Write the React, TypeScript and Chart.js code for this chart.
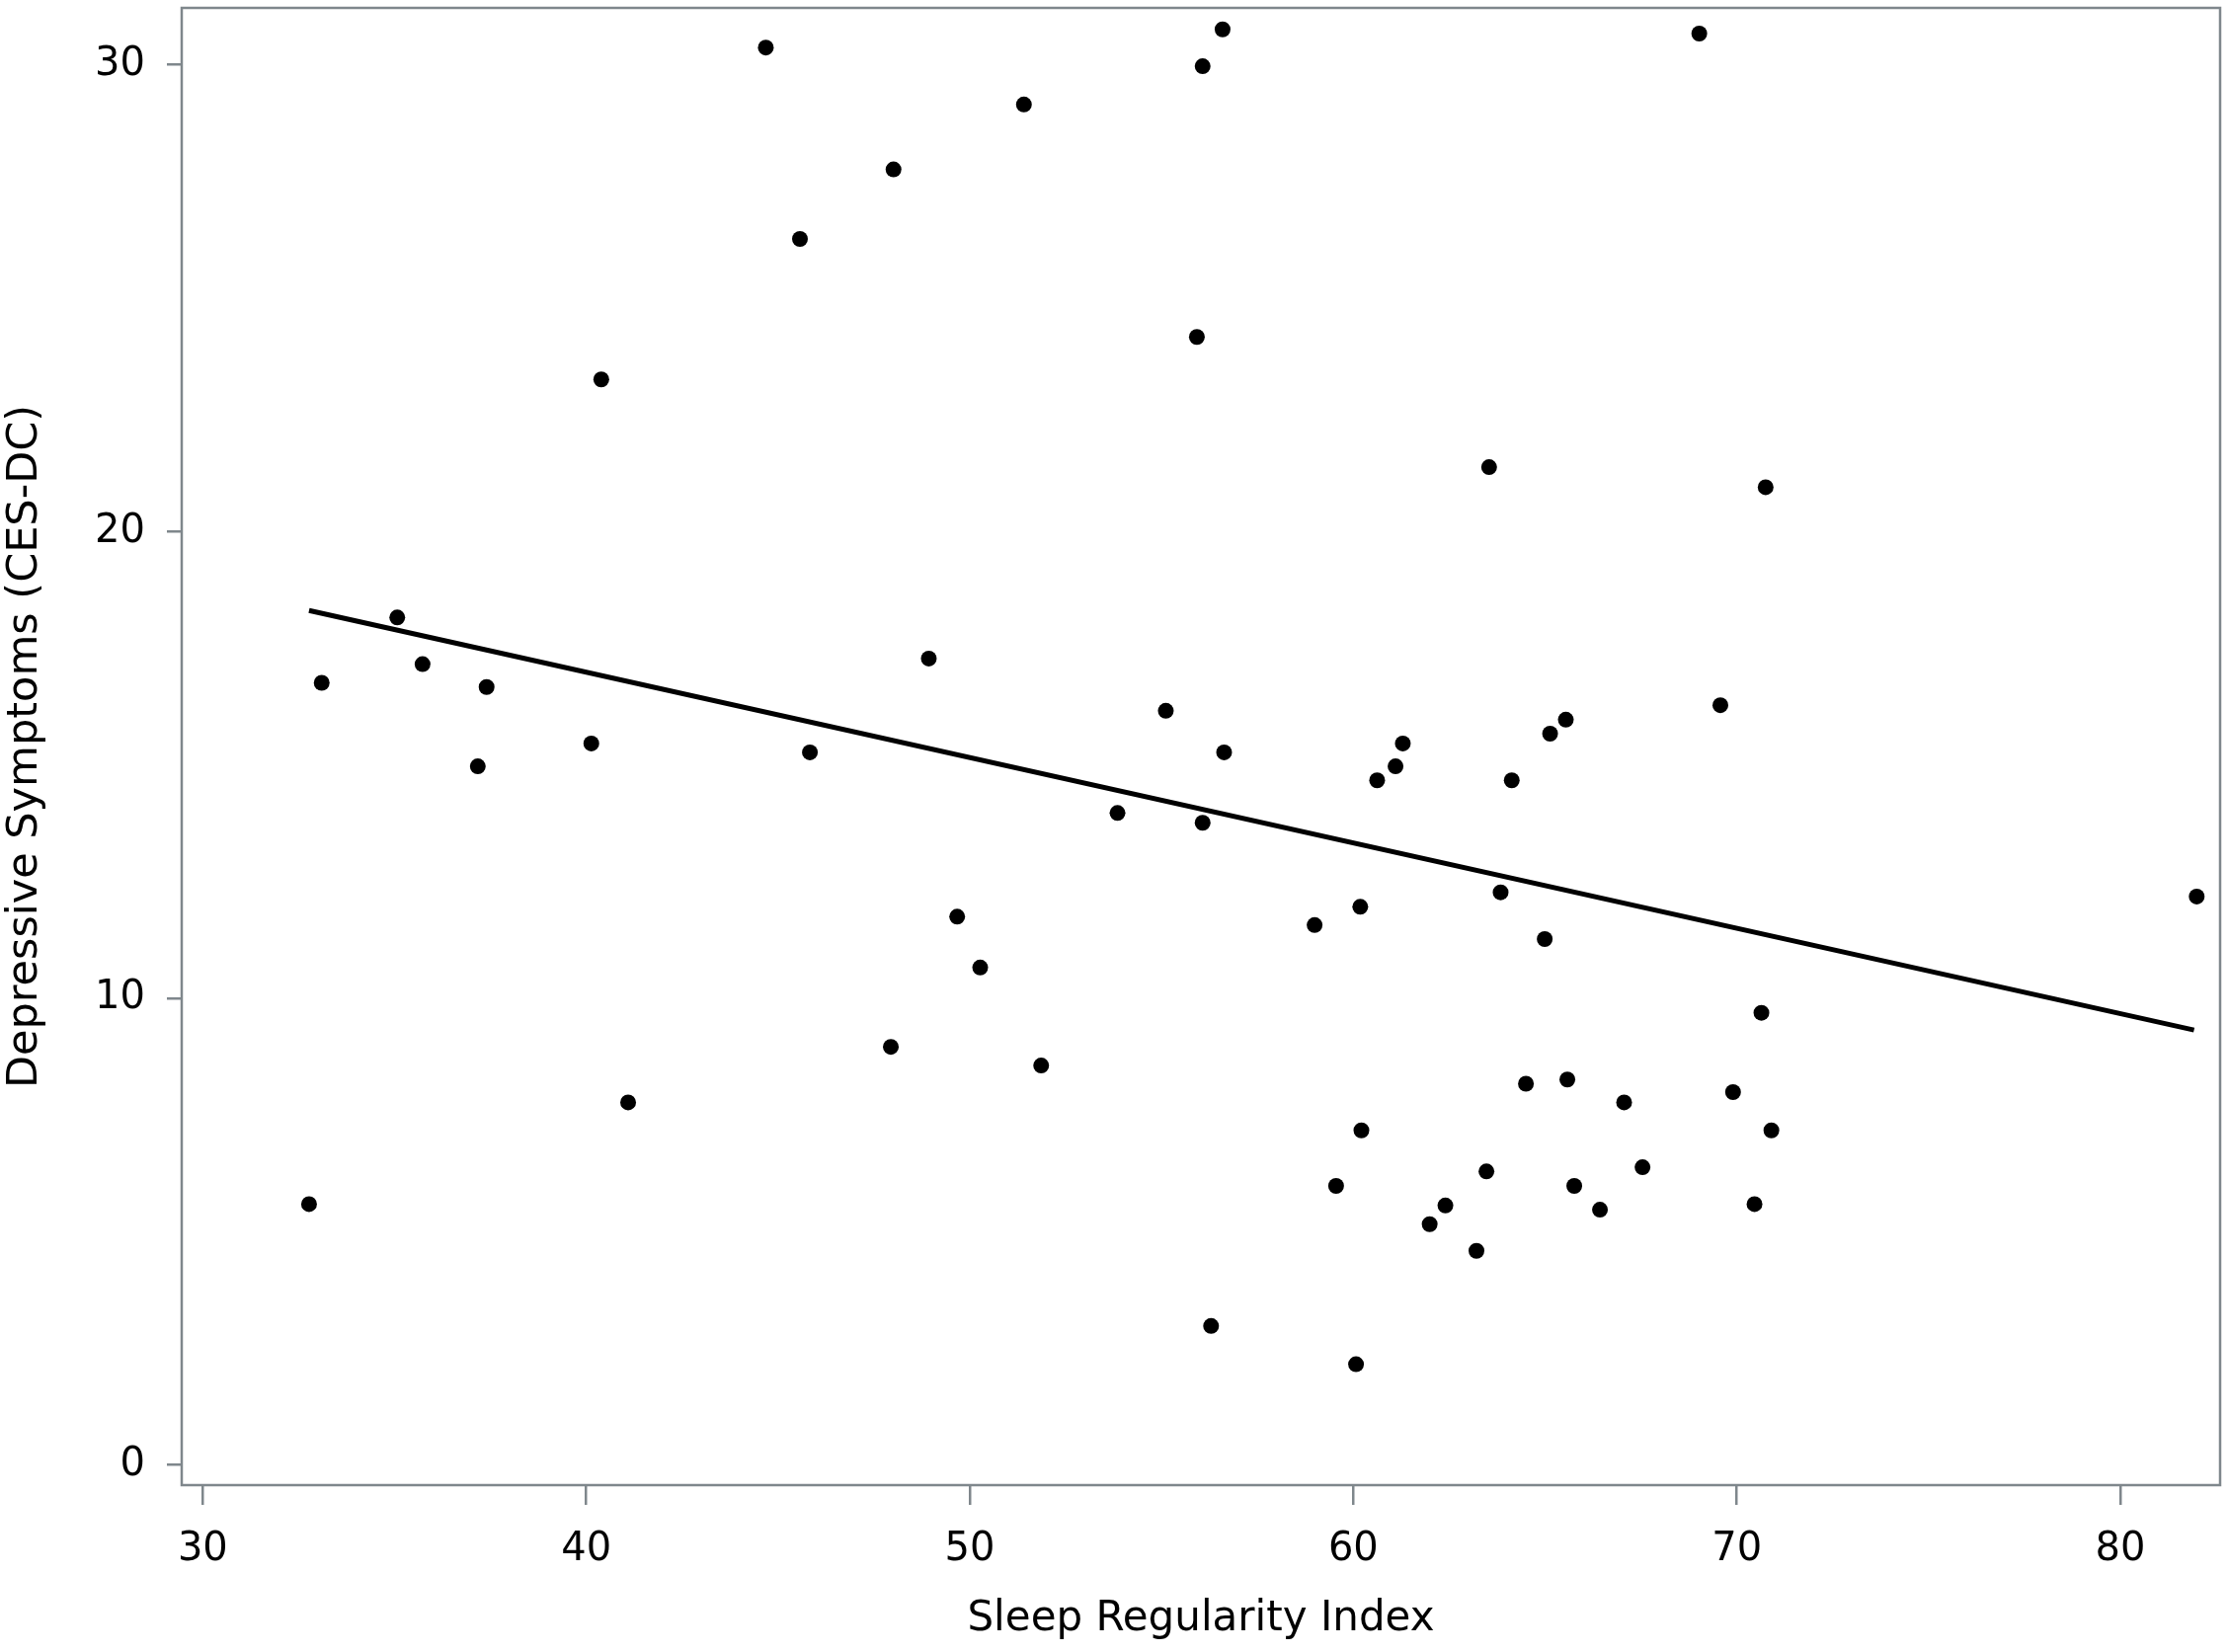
import React, { useEffect, useRef } from "react";
import { Chart, registerables } from "chart.js";
Chart.register(...registerables);

// Sleep Regularity Index (x) and CES-DC score (y) per participant
const sriValues = [
  32.77, 33.1, 35.07, 35.73, 37.17, 37.4, 40.13, 40.39, 41.09, 44.68,
  45.57, 45.83, 47.94, 48.01, 48.93, 49.67, 50.27, 51.41, 51.86, 53.85,
  55.11, 55.92, 56.07, 56.07, 56.29, 56.59, 56.63, 58.99, 59.55, 60.07,
  60.18, 60.21, 60.62, 61.1, 61.29, 61.99, 62.4, 63.21, 63.47, 63.54,
  63.84, 64.13, 64.5, 64.99, 65.13, 65.54, 65.58, 65.76, 66.43, 67.06,
  67.54, 69.02, 69.57, 69.9, 70.46, 70.64, 70.75, 70.9, 81.99,
];
const cesdcValues = [
  5.59, 16.76, 18.16, 17.16, 14.97, 16.67, 15.46, 23.26, 7.77, 30.37,
  26.27, 15.27, 8.96, 27.76, 17.28, 11.75, 10.66, 29.15, 8.56, 13.97,
  16.16, 24.17, 29.97, 13.76, 2.98, 30.76, 15.27, 11.57, 5.98, 2.16,
  11.96, 7.17, 14.67, 14.97, 15.46, 5.16, 5.56, 4.59, 6.29, 21.38,
  12.27, 14.67, 8.17, 11.27, 15.67, 15.97, 8.26, 5.98, 5.47, 7.77,
  6.38, 30.67, 16.28, 7.99, 5.59, 9.69, 20.95, 7.17, 12.18,
];
// Fitted regression line end points
const fitX = [32.77, 81.92];
const fitY = [18.31, 9.32];

const xTicks = [30, 40, 50, 60, 70, 80];
const yTicks = [0, 10, 20, 30];
const xTitle = "Sleep Regularity Index";
const yTitle = "Depressive Symptoms (CES-DC)";

const W = 2256;
const H = 1673;
const AXIS_GRAY = "#7f878c";
const FONT = "DejaVu Sans";

const framePlugin = {
  id: "frame",
  afterDatasetsDraw(chart: any) {
    const { ctx, chartArea } = chart;
    ctx.save();
    ctx.strokeStyle = AXIS_GRAY;
    ctx.lineWidth = 2.5;
    ctx.strokeRect(chartArea.left, chartArea.top, chartArea.right - chartArea.left, chartArea.bottom - chartArea.top);
    ctx.restore();
  },
};

export default function App() {
  const ref = useRef<HTMLCanvasElement>(null);
  useEffect(() => {
    if (!ref.current) return;
    const points = sriValues.map((x, i) => ({ x, y: cesdcValues[i] }));
    const line = fitX.map((x, i) => ({ x, y: fitY[i] }));
    const chart = new Chart(ref.current, {
      type: "scatter",
      data: {
        datasets: [
          {
            data: line,
            showLine: true,
            borderColor: "#000",
            borderWidth: 5,
            pointRadius: 0,
            order: 2,
          } as any,
          {
            data: points,
            backgroundColor: "#000",
            borderColor: "#000",
            pointRadius: 8,
            pointBorderWidth: 0,
            order: 1,
          },
        ],
      },
      options: {
        animation: false,
        responsive: false,
        devicePixelRatio: 1,
        layout: { padding: { top: 4, right: 4, left: 0, bottom: 0 } },
        plugins: { legend: { display: false }, tooltip: { enabled: false } },
        scales: {
          x: {
            type: "linear",
            min: 29.45,
            max: 82.6,
            afterBuildTicks: (s: any) => {
              s.ticks = xTicks.map((v) => ({ value: v }));
            },
            afterFit: (s: any) => {
              s.height = 169;
              s.paddingLeft = 0;
              s.paddingRight = 0;
            },
            border: { display: false },
            grid: { drawOnChartArea: false, drawTicks: true, tickLength: 20, color: AXIS_GRAY, lineWidth: 2.5 },
            ticks: { color: "#000", font: { family: FONT, size: 40 }, padding: 22, maxRotation: 0 },
            title: {
              display: true,
              text: xTitle,
              color: "#000",
              font: { family: FONT, size: 42 },
              padding: { top: 0, bottom: 8 },
            },
          },
          y: {
            type: "linear",
            min: -0.43,
            max: 31.22,
            afterBuildTicks: (s: any) => {
              s.ticks = yTicks.map((v) => ({ value: v }));
            },
            afterFit: (s: any) => {
              s.width = 184;
              s.paddingTop = 0;
              s.paddingBottom = 0;
            },
            border: { display: false },
            grid: { drawOnChartArea: false, drawTicks: true, tickLength: 15, color: AXIS_GRAY, lineWidth: 2.5 },
            ticks: { color: "#000", font: { family: FONT, size: 40 }, padding: 22 },
            title: {
              display: true,
              text: yTitle,
              color: "#000",
              font: { family: FONT, size: 43 },
              padding: { top: 0, bottom: 0 },
            },
          },
        },
      },
      plugins: [framePlugin],
    });
    return () => chart.destroy();
  }, []);
  return (
    <div style={{ position: "absolute", left: 0, top: 0, width: W, height: H, background: "#fff" }}>
      <canvas ref={ref} width={W} height={H} style={{ display: "block" }} />
    </div>
  );
}
